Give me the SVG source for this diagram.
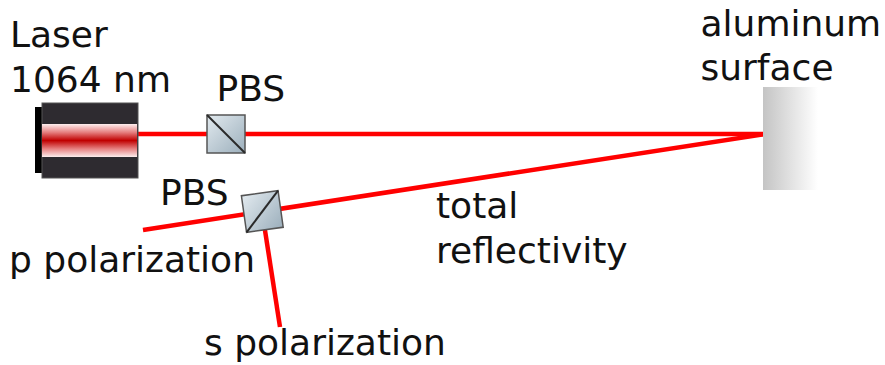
<svg xmlns="http://www.w3.org/2000/svg" width="885" height="365" viewBox="0 0 885 365">
  <defs>
    <linearGradient id="laserCore" x1="0" y1="0" x2="0" y2="1">
      <stop offset="0" stop-color="#fdeeee"/>
      <stop offset="0.25" stop-color="#e68080"/>
      <stop offset="0.5" stop-color="#c00000"/>
      <stop offset="0.75" stop-color="#e68080"/>
      <stop offset="1" stop-color="#fdeeee"/>
    </linearGradient>
    <linearGradient id="glass" x1="0" y1="0" x2="1" y2="1">
      <stop offset="0" stop-color="#e2eaef"/>
      <stop offset="1" stop-color="#9cafbc"/>
    </linearGradient>
    <linearGradient id="metal" x1="0" y1="0" x2="1" y2="0">
      <stop offset="0" stop-color="#c4c4c4"/>
      <stop offset="1" stop-color="#ffffff"/>
    </linearGradient>
  </defs>
  <style>
    text { font-family: "DejaVu Sans", "Liberation Sans", sans-serif; font-size: 36px; fill: #111; }
    .beam { stroke: #ff0000; stroke-width: 4.5; fill: none; }
    .cube { fill: url(#glass); stroke: #555; stroke-width: 1.5; }
    .split { stroke: #2a2a2a; stroke-width: 2; }
  </style>

  <rect width="885" height="365" fill="#fff"/>

  <!-- light paths -->
  <g id="beams">
    <line class="beam" x1="136" y1="134" x2="765" y2="134"/>
    <line class="beam" x1="765" y1="134" x2="143" y2="230"/>
    <line class="beam" x1="262" y1="211" x2="280" y2="327"/>
  </g>

  <g id="laser">
    <rect x="35" y="107" width="8" height="66" fill="#000"/>
    <rect x="42" y="103" width="96" height="75" fill="#2e2b30" stroke="#555" stroke-width="1"/>
    <rect x="42" y="124" width="95" height="33" fill="url(#laserCore)"/>
    <text x="10" y="47">Laser</text>
    <text x="10" y="92">1064 nm</text>
  </g>

  <g id="pbs1">
    <rect class="cube" x="207" y="115" width="38" height="38"/>
    <line class="split" x1="207" y1="115" x2="245" y2="153"/>
    <text x="216.5" y="101">PBS</text>
  </g>

  <g id="pbs2">
    <g transform="translate(262.3 211.5) rotate(-8)">
      <rect class="cube" x="-18.5" y="-18.5" width="37" height="37"/>
      <line class="split" x1="18.5" y1="-18.5" x2="-18.5" y2="18.5"/>
    </g>
    <text x="160" y="205">PBS</text>
  </g>

  <g id="surface">
    <rect x="763" y="87" width="55" height="103" fill="url(#metal)"/>
    <text x="700.5" y="36">aluminum</text>
    <text x="700.5" y="80">surface</text>
  </g>

  <g id="labels">
    <text x="436" y="218">total</text>
    <text x="436" y="263">reflectivity</text>
    <text x="9" y="272">p polarization</text>
    <text x="204" y="355">s polarization</text>
  </g>
</svg>
